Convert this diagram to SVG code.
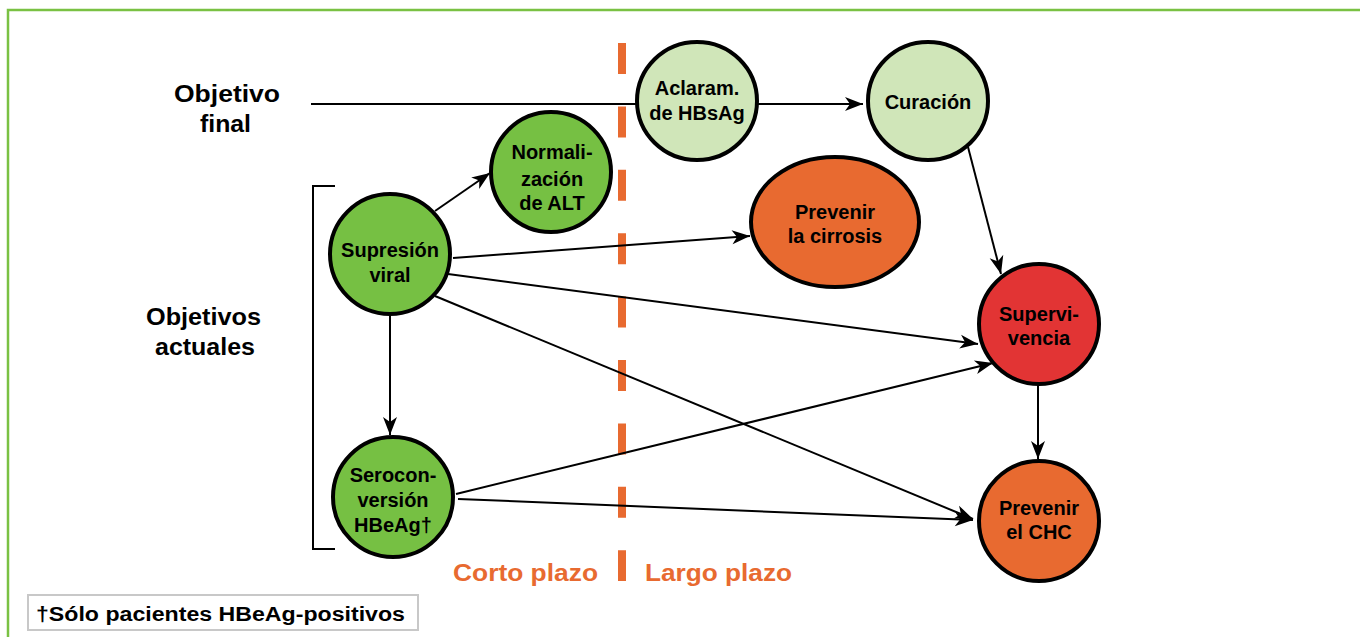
<svg xmlns="http://www.w3.org/2000/svg" width="1360" height="637" viewBox="0 0 1360 637">
<style>
.node{stroke:#000;stroke-width:4}
.g{fill:#76c043}.lg{fill:#d0e6b9}.or{fill:#e86a30}.rd{fill:#e23434}
.nt{font-family:"Liberation Sans",Arial,sans-serif;font-weight:bold;font-size:20px;text-anchor:middle;fill:#000}
.lab{font-family:"Liberation Sans",Arial,sans-serif;font-weight:bold;font-size:23px;fill:#000}
.term{font-family:"Liberation Sans",Arial,sans-serif;font-weight:bold;font-size:24px;fill:#e86a30}
.conn{stroke:#000;stroke-width:2;fill:none}
.arr{marker-end:url(#ah)}
</style>
<defs>
<marker id="ah" markerUnits="userSpaceOnUse" markerWidth="22" markerHeight="18" refX="20" refY="9" orient="auto" viewBox="0 0 22 18">
<path d="M20,9 L2,2 L7,9 L2,16 Z" fill="#000"/>
</marker>
</defs>
<rect width="1360" height="637" fill="#fff"/>
<path d="M8,637 L8,10 L1360,10" fill="none" stroke="#7ac143" stroke-width="2.5"/>
<line x1="622" y1="43" x2="622" y2="581" stroke="#e86a30" stroke-width="8" stroke-dasharray="31 32.4"/>
<path d="M335,186 L313,186 L313,549 L335,549" fill="none" stroke="#000" stroke-width="2"/>
<g id="labels">
<text class="lab" x="174" y="102" textLength="106" lengthAdjust="spacingAndGlyphs">Objetivo</text>
<text class="lab" x="200" y="132" textLength="51" lengthAdjust="spacingAndGlyphs">final</text>
<text class="lab" x="146" y="325" textLength="115" lengthAdjust="spacingAndGlyphs">Objetivos</text>
<text class="lab" x="155" y="355" textLength="100" lengthAdjust="spacingAndGlyphs">actuales</text>
<text class="term" x="453" y="581" textLength="145" lengthAdjust="spacingAndGlyphs">Corto plazo</text>
<text class="term" x="645" y="581" textLength="147" lengthAdjust="spacingAndGlyphs">Largo plazo</text>
</g>
<g id="connectors">
<path class="conn" d="M311,104 L637,104"/>
<path class="conn arr" d="M757,104 L863,104"/>
<path class="conn arr" d="M435,211 L490,173"/>
<path class="conn arr" d="M453,258 L750,236"/>
<path class="conn arr" d="M448,274 L978,344"/>
<path class="conn arr" d="M435,296 L973,519"/>
<path class="conn arr" d="M390,314 L390,435"/>
<path class="conn arr" d="M456,494 L993,363"/>
<path class="conn arr" d="M458,499 L973,520"/>
<path class="conn arr" d="M968,147 L1001,274"/>
<path class="conn arr" d="M1038,384 L1038,459"/>
</g>
<g id="aclaram">
<ellipse class="node lg" cx="697" cy="101" rx="60" ry="59"/>
<text class="nt" x="697" y="95">Aclaram.</text>
<text class="nt" x="697" y="120">de HBsAg</text>
</g>
<g id="curacion">
<ellipse class="node lg" cx="928" cy="101" rx="60" ry="59"/>
<text class="nt" x="928" y="109">Curación</text>
</g>
<g id="normalizacion">
<ellipse class="node g" cx="551" cy="172" rx="60" ry="60"/>
<text class="nt" x="552" y="159">Normali-</text>
<text class="nt" x="552" y="186">zación</text>
<text class="nt" x="552" y="210">de ALT</text>
</g>
<g id="cirrosis">
<ellipse class="node or" cx="835" cy="222" rx="84" ry="65"/>
<text class="nt" x="835" y="219">Prevenir</text>
<text class="nt" x="835" y="243">la cirrosis</text>
</g>
<g id="supresion">
<ellipse class="node g" cx="390" cy="254" rx="60" ry="60"/>
<text class="nt" x="390" y="257">Supresión</text>
<text class="nt" x="390" y="282">viral</text>
</g>
<g id="seroconversion">
<ellipse class="node g" cx="393" cy="497" rx="60" ry="60"/>
<text class="nt" x="393" y="482">Serocon-</text>
<text class="nt" x="393" y="507">versión</text>
<text class="nt" x="393" y="532">HBeAg†</text>
</g>
<g id="supervivencia">
<ellipse class="node rd" cx="1039" cy="324" rx="60" ry="60"/>
<text class="nt" x="1039" y="321">Supervi-</text>
<text class="nt" x="1039" y="345">vencia</text>
</g>
<g id="chc">
<ellipse class="node or" cx="1039" cy="521" rx="60" ry="60"/>
<text class="nt" x="1039" y="515">Prevenir</text>
<text class="nt" x="1039" y="539">el CHC</text>
</g>
<g id="footnote">
<rect x="28" y="595" width="390" height="35" fill="#fff" stroke="#c8c8c8" stroke-width="2"/>
<text x="36" y="621" font-family="Liberation Sans, Arial, sans-serif" font-weight="bold" font-size="20" textLength="369" lengthAdjust="spacingAndGlyphs">†Sólo pacientes HBeAg-positivos</text>
</g>
</svg>
